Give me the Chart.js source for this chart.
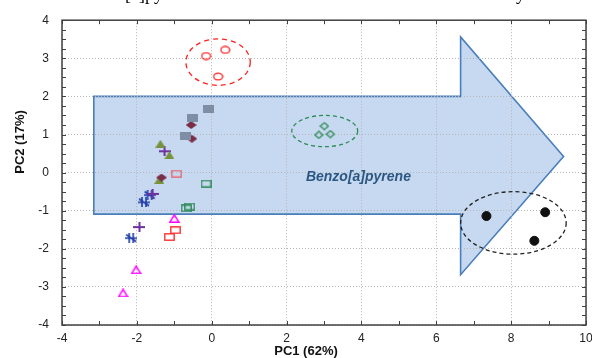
<!DOCTYPE html>
<html><head><meta charset="utf-8">
<script src="https://cdn.jsdelivr.net/npm/chart.js@4.4.1/dist/chart.umd.min.js"></script>
<style>html,body{margin:0;padding:0;background:#fff;}#wrap{width:592px;height:358px;}</style>
</head><body><div id="wrap"><canvas id="c" width="592" height="358"></canvas></div>
<script>
// ---- data (PC1, PC2) ----
const grayRect      = [[-0.09,1.66],[-0.52,1.44],[-0.71,0.97]];
const maroonDiamond = [[-0.55,1.25],[-0.53,0.89],[-1.34,-0.13]];
const oliveTri      = [[-1.37,0.76],[-1.13,0.46],[-1.40,-0.19]];
const purplePlus    = [[-1.26,0.56],[-1.58,-0.56],[-1.93,-1.43]];
const navyStar      = [[-1.66,-0.59],[-1.81,-0.78],[-2.15,-1.72]];
const pinkSquare    = [[-0.94,-0.03]];
const greenSquare   = [[-0.15,-0.29],[-0.68,-0.94],[-0.59,-0.89]];
const redSquare     = [[-0.97,-1.51],[-1.13,-1.69]];
const magentaTri    = [[-1.00,-1.20],[-2.02,-2.55],[-2.37,-3.16]];
const redCircle     = [[-0.15,3.06],[0.36,3.22],[0.17,2.52]];
const greenDiamond  = [[3.01,1.22],[2.86,0.99],[3.17,1.01]];
const blackDot      = [[7.34,-1.14],[8.91,-1.04],[8.62,-1.79]];

// arrow outline (data units) and group ellipses (centre x, centre y, radius x, radius y)
const arrowX = [-3.15, 6.65, 6.65, 9.40, 6.65, 6.65, -3.15];
const arrowY = [ 2.00, 2.00, 3.56, 0.42, -2.68, -1.09, -1.09];
const ellipses = [
  {cx:0.17, cy:2.90, rx:0.86, ry:0.61, color:'#ff2020', dash:[5,4]},
  {cx:3.02, cy:1.09, rx:0.88, ry:0.41, color:'#2e8b57', dash:[4,3]},
  {cx:8.06, cy:-1.32, rx:1.41, ry:0.82, color:'#222222', dash:[4,3]}
];
const arrowLabel = {x:3.92, y:-0.13, text:'Benzo[a]pyrene'};
const xTicks = [-4,-2,0,2,4,6,8,10];
const yTicks = [-4,-3,-2,-1,0,1,2,3,4];
const xTitle = 'PC1 (62%)';
const yTitle = 'PC2 (17%)';

function toPts(a){return a.map(p=>({x:p[0],y:p[1]}));}
function icon(w,h,fn){const c=document.createElement('canvas');c.width=w;c.height=h;const g=c.getContext('2d');fn(g,w,h);return c;}

const icGray = icon(11,8,(g,w,h)=>{g.fillStyle='#7d8ea5';g.fillRect(0,0,w,h);});
const icMaroon = icon(11,8,(g,w,h)=>{g.fillStyle='#7b2d45';g.beginPath();g.moveTo(0,4);g.lineTo(5.5,0);g.lineTo(11,4);g.lineTo(5.5,8);g.closePath();g.fill();});
const icOlive = icon(10,8,(g,w,h)=>{g.fillStyle='#76923c';g.beginPath();g.moveTo(5,0);g.lineTo(10,8);g.lineTo(0,8);g.closePath();g.fill();});
const icPlus = icon(12,10,(g,w,h)=>{g.strokeStyle='#7030a0';g.lineWidth=2;g.beginPath();g.moveTo(0,5);g.lineTo(12,5);g.moveTo(6,0);g.lineTo(6,10);g.stroke();});
const icStar = icon(12,10,(g,w,h)=>{g.strokeStyle='#1f3ca8';g.lineWidth=1.6;g.beginPath();g.moveTo(0,5);g.lineTo(12,5);g.moveTo(4,0);g.lineTo(4,10);g.moveTo(8,0);g.lineTo(8,10);g.moveTo(1,1.5);g.lineTo(11,8.5);g.stroke();});
function openRect(col){return icon(11,8,(g,w,h)=>{g.strokeStyle=col;g.lineWidth=1.4;g.strokeRect(0.8,0.8,w-1.6,h-1.6);});}
const icPink = openRect('#e0707a');
const icGreenSq = openRect('#2f8a5a');
const icRedSq = openRect('#ff3030');
const icMagenta = icon(11,9,(g,w,h)=>{g.strokeStyle='#ff00ff';g.lineWidth=1.5;g.beginPath();g.moveTo(5.5,1);g.lineTo(10,8.2);g.lineTo(1,8.2);g.closePath();g.stroke();});
const icRedCirc = icon(11,9,(g,w,h)=>{g.strokeStyle='#ff2020';g.lineWidth=1.3;g.beginPath();g.ellipse(5.5,4.5,4.4,3.4,0,0,Math.PI*2);g.stroke();});
const icGreenDia = icon(10,9,(g,w,h)=>{g.strokeStyle='#2e8b57';g.lineWidth=1.3;g.beginPath();g.moveTo(5,1);g.lineTo(9,4.5);g.lineTo(5,8);g.lineTo(1,4.5);g.closePath();g.stroke();});

function ds(data,style,extra){return Object.assign({data:toPts(data),pointStyle:style,pointRadius:5,pointHoverRadius:5,showLine:false},extra||{});}

const titleFont = 'bold 13px "Liberation Sans", Arial, sans-serif';
const bgPlugin = {
  id:'bg',
  beforeDraw(chart){
    const {ctx,scales:{x,y}} = chart;
    ctx.save();
    ctx.beginPath();
    arrowX.forEach((v,i)=>{const px=x.getPixelForValue(v),py=y.getPixelForValue(arrowY[i]); if(i===0)ctx.moveTo(px,py); else ctx.lineTo(px,py);});
    ctx.closePath();
    ctx.fillStyle='#c6d9f0';ctx.fill();
    ctx.strokeStyle='#4a7ebb';ctx.lineWidth=1.6;ctx.stroke();
    ctx.restore();
  },
  afterDatasetsDraw(chart){
    const {ctx,chartArea:a,scales:{x,y}} = chart;
    ctx.save();
    // ellipses
    ellipses.forEach(e=>{
      const cx=x.getPixelForValue(e.cx), cy=y.getPixelForValue(e.cy);
      const rx=Math.abs(x.getPixelForValue(e.cx+e.rx)-cx), ry=Math.abs(y.getPixelForValue(e.cy+e.ry)-cy);
      ctx.beginPath();ctx.setLineDash(e.dash);ctx.strokeStyle=e.color;ctx.lineWidth=1.3;
      ctx.ellipse(cx,cy,rx,ry,0,0,Math.PI*2);ctx.stroke();
    });
    ctx.setLineDash([]);
    // arrow label
    ctx.font='bold italic 14px "Liberation Sans", Arial, sans-serif';
    ctx.fillStyle='#2c5782';ctx.textAlign='center';ctx.textBaseline='middle';
    ctx.fillText(arrowLabel.text, x.getPixelForValue(arrowLabel.x), y.getPixelForValue(arrowLabel.y));
    // frame
    ctx.strokeStyle='#404040';ctx.lineWidth=1.5;
    ctx.strokeRect(a.left,a.top,a.right-a.left,a.bottom-a.top);
    // minor ticks
    ctx.lineWidth=1;ctx.strokeStyle='#404040';ctx.beginPath();
    for(let v=-4;v<=10;v+=1){const px=Math.round(x.getPixelForValue(v))+0.5;ctx.moveTo(px,a.bottom);ctx.lineTo(px,a.bottom-4);ctx.moveTo(px,a.top);ctx.lineTo(px,a.top+4);}
    for(let v=-4;v<=4.001;v+=0.25){const py=Math.round(y.getPixelForValue(v))+0.5;ctx.moveTo(a.left,py);ctx.lineTo(a.left+4,py);ctx.moveTo(a.right,py);ctx.lineTo(a.right-4,py);}
    ctx.stroke();
    // axis titles (centred on the whole figure, as in the source)
    ctx.font=titleFont;ctx.fillStyle='#111';ctx.textAlign='center';ctx.textBaseline='middle';
    ctx.fillText(xTitle, 306, 351);
    ctx.save();ctx.translate(20,142);ctx.rotate(-Math.PI/2);ctx.fillText(yTitle,0,0);ctx.restore();
    // clipped figure caption remnant at very top
    ctx.font='18px "Liberation Serif", "Times New Roman", serif';
    ctx.fillStyle='#000';ctx.textAlign='left';ctx.textBaseline='alphabetic';
    ctx.fillText('[a]pyrene', 125, -0.5);
    ctx.fillText('y', 516, -0.5);
    ctx.restore();
  }
};

const tickFont = {family:'"Liberation Sans", Arial, sans-serif', size:12};
new Chart(document.getElementById('c'), {
  type:'scatter',
  data:{datasets:[
    ds(grayRect,icGray), ds(maroonDiamond,icMaroon), ds(oliveTri,icOlive),
    ds(pinkSquare,icPink), ds(greenSquare,icGreenSq), ds(redSquare,icRedSq),
    ds(magentaTri,icMagenta), ds(purplePlus,icPlus), ds(navyStar,icStar),
    ds(redCircle,icRedCirc), ds(greenDiamond,icGreenDia),
    ds(blackDot,'circle',{pointRadius:4.5,backgroundColor:'#111',borderColor:'#111'})
  ]},
  options:{
    responsive:false, animation:false, events:[],
    layout:{padding:{top:17,right:4,left:0,bottom:0}},
    plugins:{legend:{display:false},tooltip:{enabled:false}},
    scales:{
      x:{type:'linear',min:-4,max:10,
        afterBuildTicks:s=>{s.ticks=xTicks.map(v=>({value:v}));},
        afterFit:s=>{s.height=33;s.paddingLeft=0;s.paddingRight=0;},
        ticks:{font:tickFont,color:'#222',padding:6,maxRotation:0},
        grid:{color:'#b5b5b5',lineWidth:1,drawTicks:false},
        border:{display:false,dash:[1,2]},
        title:{display:false}
      },
      y:{type:'linear',min:-4,max:4,
        afterBuildTicks:s=>{s.ticks=yTicks.map(v=>({value:v}));},
        afterFit:s=>{s.width=62;},
        ticks:{font:tickFont,color:'#222',padding:13},
        grid:{color:'#b5b5b5',lineWidth:1,drawTicks:false},
        border:{display:false,dash:[1,2]},
        title:{display:false}
      }
    }
  },
  plugins:[bgPlugin]
});
</script></body></html>
